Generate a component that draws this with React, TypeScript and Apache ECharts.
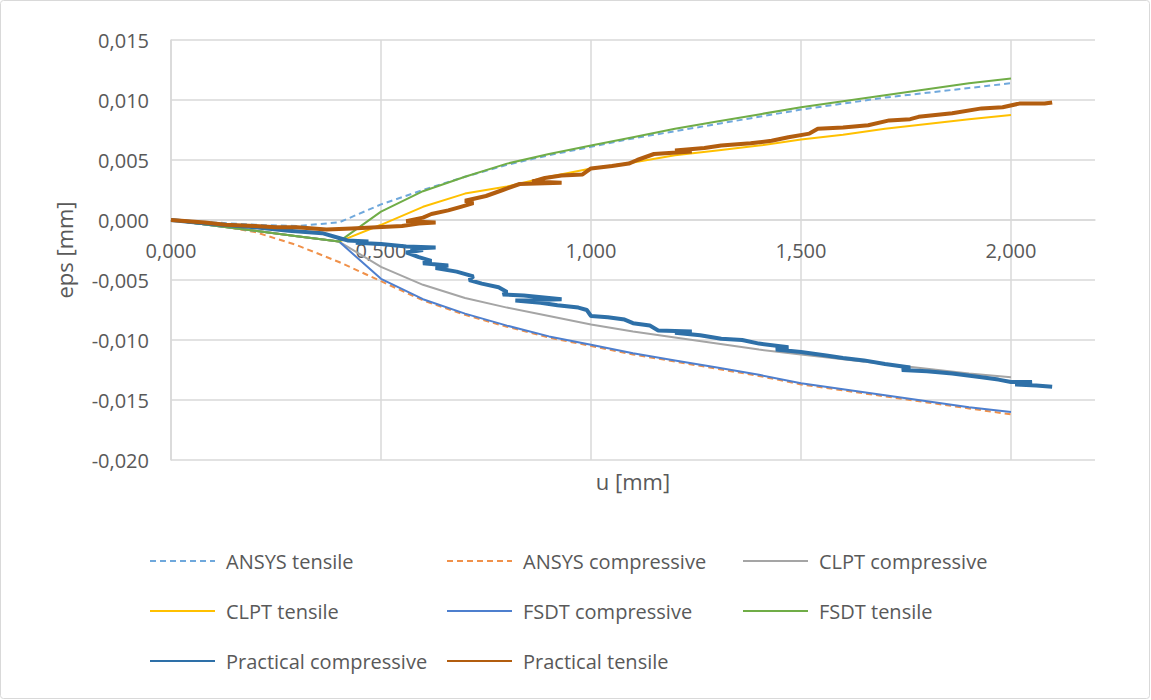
import React, { useEffect, useRef } from "react";
import * as echarts from "echarts";

// Model curves share the same u positions
const uModel = [0, 0.1, 0.2, 0.3, 0.4, 0.5, 0.6, 0.7, 0.8, 0.9, 1.0, 1.1, 1.2, 1.3, 1.4, 1.5, 1.6, 1.7, 1.8, 1.9, 2.0];

const ansysTensile = [0, -0.0002, -0.0004, -0.0005, -0.0002, 0.0013, 0.0025, 0.0036, 0.0046, 0.0054, 0.0061, 0.0068, 0.0074, 0.0080, 0.0086, 0.0092, 0.0097, 0.0102, 0.0106, 0.0110, 0.0114];
const ansysCompressive = [0, -0.0004, -0.0010, -0.0021, -0.0035, -0.0051, -0.0067, -0.0079, -0.0089, -0.0098, -0.0105, -0.0112, -0.0118, -0.0124, -0.0130, -0.0137, -0.0142, -0.0147, -0.0152, -0.0157, -0.0162];
const clptCompressive = [0, -0.00045, -0.0009, -0.00135, -0.0018, -0.0039, -0.0054, -0.0065, -0.0073, -0.0080, -0.0087, -0.0093, -0.0098, -0.0103, -0.0108, -0.0112, -0.0116, -0.0120, -0.0124, -0.0128, -0.0131];
const clptTensile = [0, -0.00045, -0.0009, -0.00135, -0.0018, -0.0004, 0.0011, 0.0022, 0.0028, 0.0036, 0.0043, 0.0048, 0.0054, 0.0058, 0.0062, 0.0067, 0.0071, 0.0076, 0.0080, 0.0084, 0.00875];
const fsdtCompressive = [0, -0.00045, -0.0009, -0.00135, -0.0018, -0.0049, -0.0066, -0.0078, -0.0088, -0.0097, -0.0104, -0.0111, -0.0117, -0.0123, -0.0129, -0.0136, -0.0141, -0.0146, -0.0151, -0.0156, -0.0160];
const fsdtTensile = [0, -0.00045, -0.0009, -0.00135, -0.0018, 0.0007, 0.0024, 0.0036, 0.0047, 0.0055, 0.0062, 0.0069, 0.0076, 0.0082, 0.0088, 0.0094, 0.0099, 0.0104, 0.0109, 0.0114, 0.0118];

// Measured (noisy) curves
const uPracComp = [0, 0.06, 0.12, 0.2, 0.28, 0.36, 0.40, 0.42, 0.47, 0.44, 0.50, 0.56, 0.63, 0.57, 0.60, 0.56, 0.59, 0.62, 0.60, 0.66, 0.63, 0.68, 0.72, 0.71, 0.74, 0.78, 0.80, 0.79, 0.84, 0.93, 0.82, 0.88, 0.92, 0.97, 0.99, 1.00, 1.04, 1.08, 1.10, 1.14, 1.16, 1.24, 1.20, 1.26, 1.31, 1.36, 1.40, 1.47, 1.44, 1.50, 1.56, 1.60, 1.65, 1.70, 1.76, 1.74, 1.80, 1.86, 1.93, 1.97, 2.00, 2.05, 2.01, 2.06, 2.098];
const epsPracComp = [0, -0.0002, -0.0004, -0.0006, -0.0009, -0.0011, -0.0015, -0.0017, -0.0018, -0.0019, -0.0020, -0.0022, -0.0023, -0.0024, -0.0025, -0.0027, -0.0031, -0.0034, -0.0036, -0.0038, -0.0040, -0.0043, -0.0047, -0.0050, -0.0053, -0.0056, -0.0060, -0.0062, -0.0063, -0.0066, -0.0067, -0.0069, -0.0071, -0.0073, -0.0075, -0.0080, -0.0081, -0.0083, -0.0086, -0.0088, -0.0092, -0.0093, -0.0094, -0.0096, -0.0099, -0.0100, -0.0103, -0.0106, -0.0108, -0.0110, -0.0113, -0.0115, -0.0117, -0.0120, -0.0123, -0.0125, -0.0126, -0.0128, -0.0131, -0.0133, -0.0135, -0.0135, -0.0137, -0.0138, -0.0139];

const uPracTens = [0, 0.08, 0.13, 0.2, 0.25, 0.3, 0.37, 0.43, 0.49, 0.55, 0.59, 0.63, 0.56, 0.60, 0.62, 0.66, 0.69, 0.72, 0.70, 0.75, 0.79, 0.83, 0.93, 0.86, 0.89, 0.93, 0.98, 1.00, 1.05, 1.09, 1.11, 1.15, 1.24, 1.20, 1.27, 1.31, 1.38, 1.43, 1.47, 1.52, 1.54, 1.60, 1.66, 1.71, 1.76, 1.78, 1.86, 1.93, 1.98, 2.02, 2.08, 2.098];
const epsPracTens = [0, -0.0002, -0.0004, -0.0005, -0.0006, -0.0006, -0.0008, -0.0007, -0.0006, -0.0005, -0.0003, -0.0002, -0.0001, 0.0002, 0.0005, 0.0008, 0.0011, 0.0014, 0.0016, 0.0020, 0.0025, 0.0030, 0.0031, 0.0032, 0.0035, 0.0037, 0.0038, 0.0043, 0.0045, 0.0047, 0.0050, 0.0055, 0.0057, 0.0058, 0.0060, 0.0062, 0.0064, 0.0066, 0.0069, 0.0072, 0.0076, 0.0077, 0.0079, 0.0083, 0.0084, 0.0086, 0.0089, 0.0093, 0.0094, 0.0097, 0.0097, 0.0098];

const seriesNames = [
  "ANSYS tensile",
  "ANSYS compressive",
  "CLPT compressive",
  "CLPT tensile",
  "FSDT compressive",
  "FSDT tensile",
  "Practical compressive",
  "Practical tensile",
];

const xTicks = { min: 0, max: 2.2, interval: 0.5 };
const yTicks = { min: -0.02, max: 0.015, interval: 0.005 };

const zip = (xs: number[], ys: number[]) => xs.map((x, i) => [x, ys[i]]);
const fmt = (v: number) => v.toFixed(3).replace(".", ",");

const FONT = "'Open Sans', 'Noto Sans', sans-serif";
const TXT = "#595959";
const GRID = "#d9d9d9";

export default function App() {
  const ref = useRef<HTMLDivElement>(null);
  useEffect(() => {
    if (!ref.current) return;
    const chart = echarts.init(ref.current, undefined, { renderer: "svg" });
    const line = (name: string, data: number[][], color: string, width: number, dashed = false, z = 2) => ({
      name,
      type: "line",
      data,
      symbol: "none",
      showSymbol: false,
      z,
      lineStyle: { color, width, type: dashed ? [6, 4] : "solid" },
      itemStyle: { color },
    });
    const legendCommon = {
      orient: "vertical",
      top: 551,
      itemWidth: 65,
      itemHeight: 14,
      itemGap: 30,
      padding: 0,
      itemStyle: { opacity: 0 },
      textStyle: { fontFamily: FONT, fontSize: 20, color: TXT, lineHeight: 20, padding: [0, 0, 0, 6] },
    };
    chart.setOption({
      animation: false,
      backgroundColor: "#ffffff",
      textStyle: { fontFamily: FONT },
      grid: { left: 171, right: 56, top: 40, bottom: 240, containLabel: false, outerBoundsMode: "none" },
      graphic: [
        {
          type: "rect",
          shape: { x: 0.5, y: 0.5, width: 1149, height: 698, r: 3 },
          style: { fill: "none", stroke: GRID, lineWidth: 1 },
          silent: true,
        },
      ],
      legend: [
        { ...legendCommon, left: 149, data: [seriesNames[0], seriesNames[3], seriesNames[6]] },
        { ...legendCommon, left: 446, data: [seriesNames[1], seriesNames[4], seriesNames[7]] },
        { ...legendCommon, left: 742, data: [seriesNames[2], seriesNames[5]] },
      ],
      xAxis: {
        type: "value",
        position: "bottom",
        offset: -240,
        min: xTicks.min,
        max: xTicks.max,
        interval: xTicks.interval,
        name: "u [mm]",
        nameLocation: "middle",
        nameGap: 250,
        nameTextStyle: { fontFamily: FONT, fontSize: 22, color: TXT },
        axisLine: { show: true, onZero: false, lineStyle: { color: GRID, width: 1.5 } },
        axisTick: { show: false },
        axisLabel: { fontFamily: FONT, fontSize: 20, color: TXT, margin: 20, formatter: fmt, showMaxLabel: false },
        splitLine: { show: true, showMaxLine: false, lineStyle: { color: GRID, width: 1.5 } },
      },
      yAxis: {
        type: "value",
        min: yTicks.min,
        max: yTicks.max,
        interval: yTicks.interval,
        name: "eps [mm]",
        nameLocation: "middle",
        nameGap: 96,
        nameTextStyle: { fontFamily: FONT, fontSize: 22, color: TXT },
        axisLine: { show: true, onZero: false, lineStyle: { color: GRID, width: 1.5 } },
        axisTick: { show: false },
        axisLabel: { fontFamily: FONT, fontSize: 20, color: TXT, margin: 22, formatter: fmt },
        splitLine: { show: true, lineStyle: { color: GRID, width: 1.5 } },
      },
      series: [
        line(seriesNames[0], zip(uModel, ansysTensile), "#6fa8dc", 2, true, 2),
        line(seriesNames[1], zip(uModel, ansysCompressive), "#f0914a", 2, true, 2),
        line(seriesNames[2], zip(uModel, clptCompressive), "#a5a5a5", 2, false, 3),
        line(seriesNames[3], zip(uModel, clptTensile), "#ffc000", 2, false, 3),
        line(seriesNames[4], zip(uModel, fsdtCompressive), "#4e7fce", 2, false, 4),
        line(seriesNames[5], zip(uModel, fsdtTensile), "#70ad47", 2, false, 4),
        line(seriesNames[6], zip(uPracComp, epsPracComp), "#2e70a8", 4, false, 5),
        line(seriesNames[7], zip(uPracTens, epsPracTens), "#b25d0f", 4, false, 6),
      ],
    });
    return () => chart.dispose();
  }, []);
  return (
    <div
      ref={ref}
      style={{ position: "fixed", left: 0, top: 0, width: 1151, height: 700 }}
    />
  );
}
